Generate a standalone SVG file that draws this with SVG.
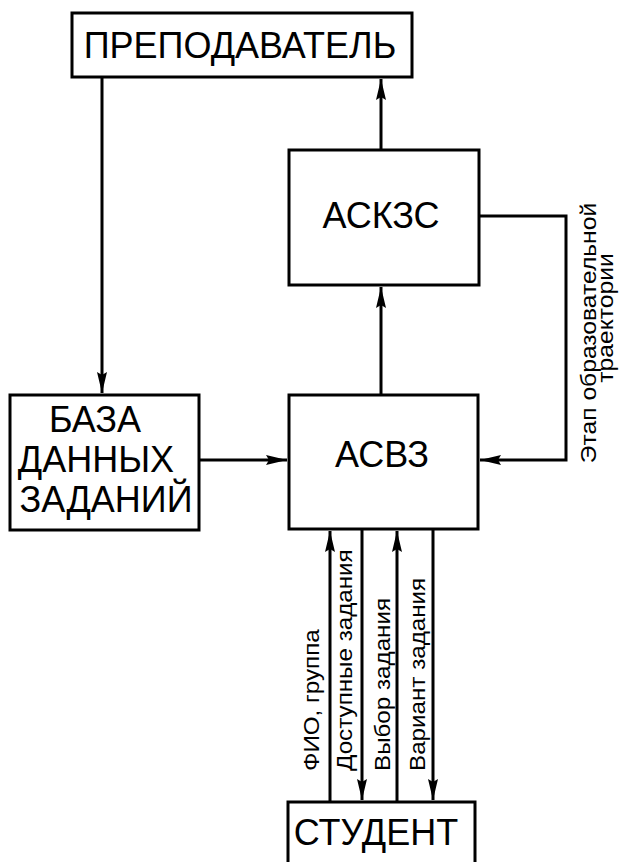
<svg xmlns="http://www.w3.org/2000/svg" width="622" height="862" viewBox="0 0 622 862">
<style>
.box{fill:#fff;stroke:#000;stroke-width:3}
.t{font-family:"Liberation Sans",Arial,sans-serif;font-size:36px;fill:#000;text-anchor:middle}
.s{font-family:"Liberation Sans",Arial,sans-serif;font-size:22px;fill:#000}
.c{fill:none;stroke:#000;stroke-width:3}
</style>
<defs>
<marker id="ah" markerUnits="userSpaceOnUse" markerWidth="22" markerHeight="12" refX="21" refY="5" orient="auto" overflow="visible">
<path d="M0,0 L21,5 L0,10 L3,5 z" fill="#000"/>
</marker>
</defs>
<g id="connectors">
<path class="c" d="M102,77 V393" marker-end="url(#ah)"/>
<path class="c" d="M381,150 V79" marker-end="url(#ah)"/>
<path class="c" d="M381,395 V287" marker-end="url(#ah)"/>
<path class="c" d="M199,460 H287" marker-end="url(#ah)"/>
<path class="c" d="M479,216 H566 V460 H480" marker-end="url(#ah)"/>
<path class="c" d="M330,802 V531" marker-end="url(#ah)"/>
<path class="c" d="M362,529 V800" marker-end="url(#ah)"/>
<path class="c" d="M397,802 V531" marker-end="url(#ah)"/>
<path class="c" d="M433,529 V800" marker-end="url(#ah)"/>
</g>
<g id="teacher">
<rect class="box" x="72" y="13" width="340" height="64"/>
<text class="t" transform="translate(240,58) scale(1,1.05)">ПРЕПОДАВАТЕЛЬ</text>
</g>
<g id="askzs">
<rect class="box" x="289" y="150" width="190" height="135"/>
<text class="t" transform="translate(381,228) scale(1,1.05)">АСКЗС</text>
</g>
<g id="asvz">
<rect class="box" x="289" y="395" width="189" height="134"/>
<text class="t" transform="translate(382,467) scale(1,1.05)">АСВЗ</text>
</g>
<g id="db">
<rect class="box" x="10" y="395" width="189" height="135"/>
<text class="t" transform="translate(95,432) scale(1,1.05)">БАЗА</text>
<text class="t" transform="translate(96,472) scale(1,1.05)">ДАННЫХ</text>
<text class="t" transform="translate(106,512) scale(1,1.05)">ЗАДАНИЙ</text>
</g>
<g id="student">
<rect class="box" x="288" y="802" width="187" height="70"/>
<text class="t" transform="translate(376,845) scale(1,1.05)">СТУДЕНТ</text>
</g>
<g id="labels">
<text class="s" transform="translate(596,333) rotate(-90) scale(1.12,1)" text-anchor="middle">Этап образовательной</text>
<text class="s" transform="translate(613,318) rotate(-90) scale(1.12,1)" text-anchor="middle">траектории</text>
<text class="s" transform="translate(319,771) rotate(-90) scale(1.1,1)">ФИО, группа</text>
<text class="s" transform="translate(352,771) rotate(-90) scale(1.1,1)">Доступные задания</text>
<text class="s" transform="translate(390,771) rotate(-90) scale(1.1,1)">Выбор задания</text>
<text class="s" transform="translate(425,771) rotate(-90) scale(1.1,1)">Вариант задания</text>
</g>
</svg>
